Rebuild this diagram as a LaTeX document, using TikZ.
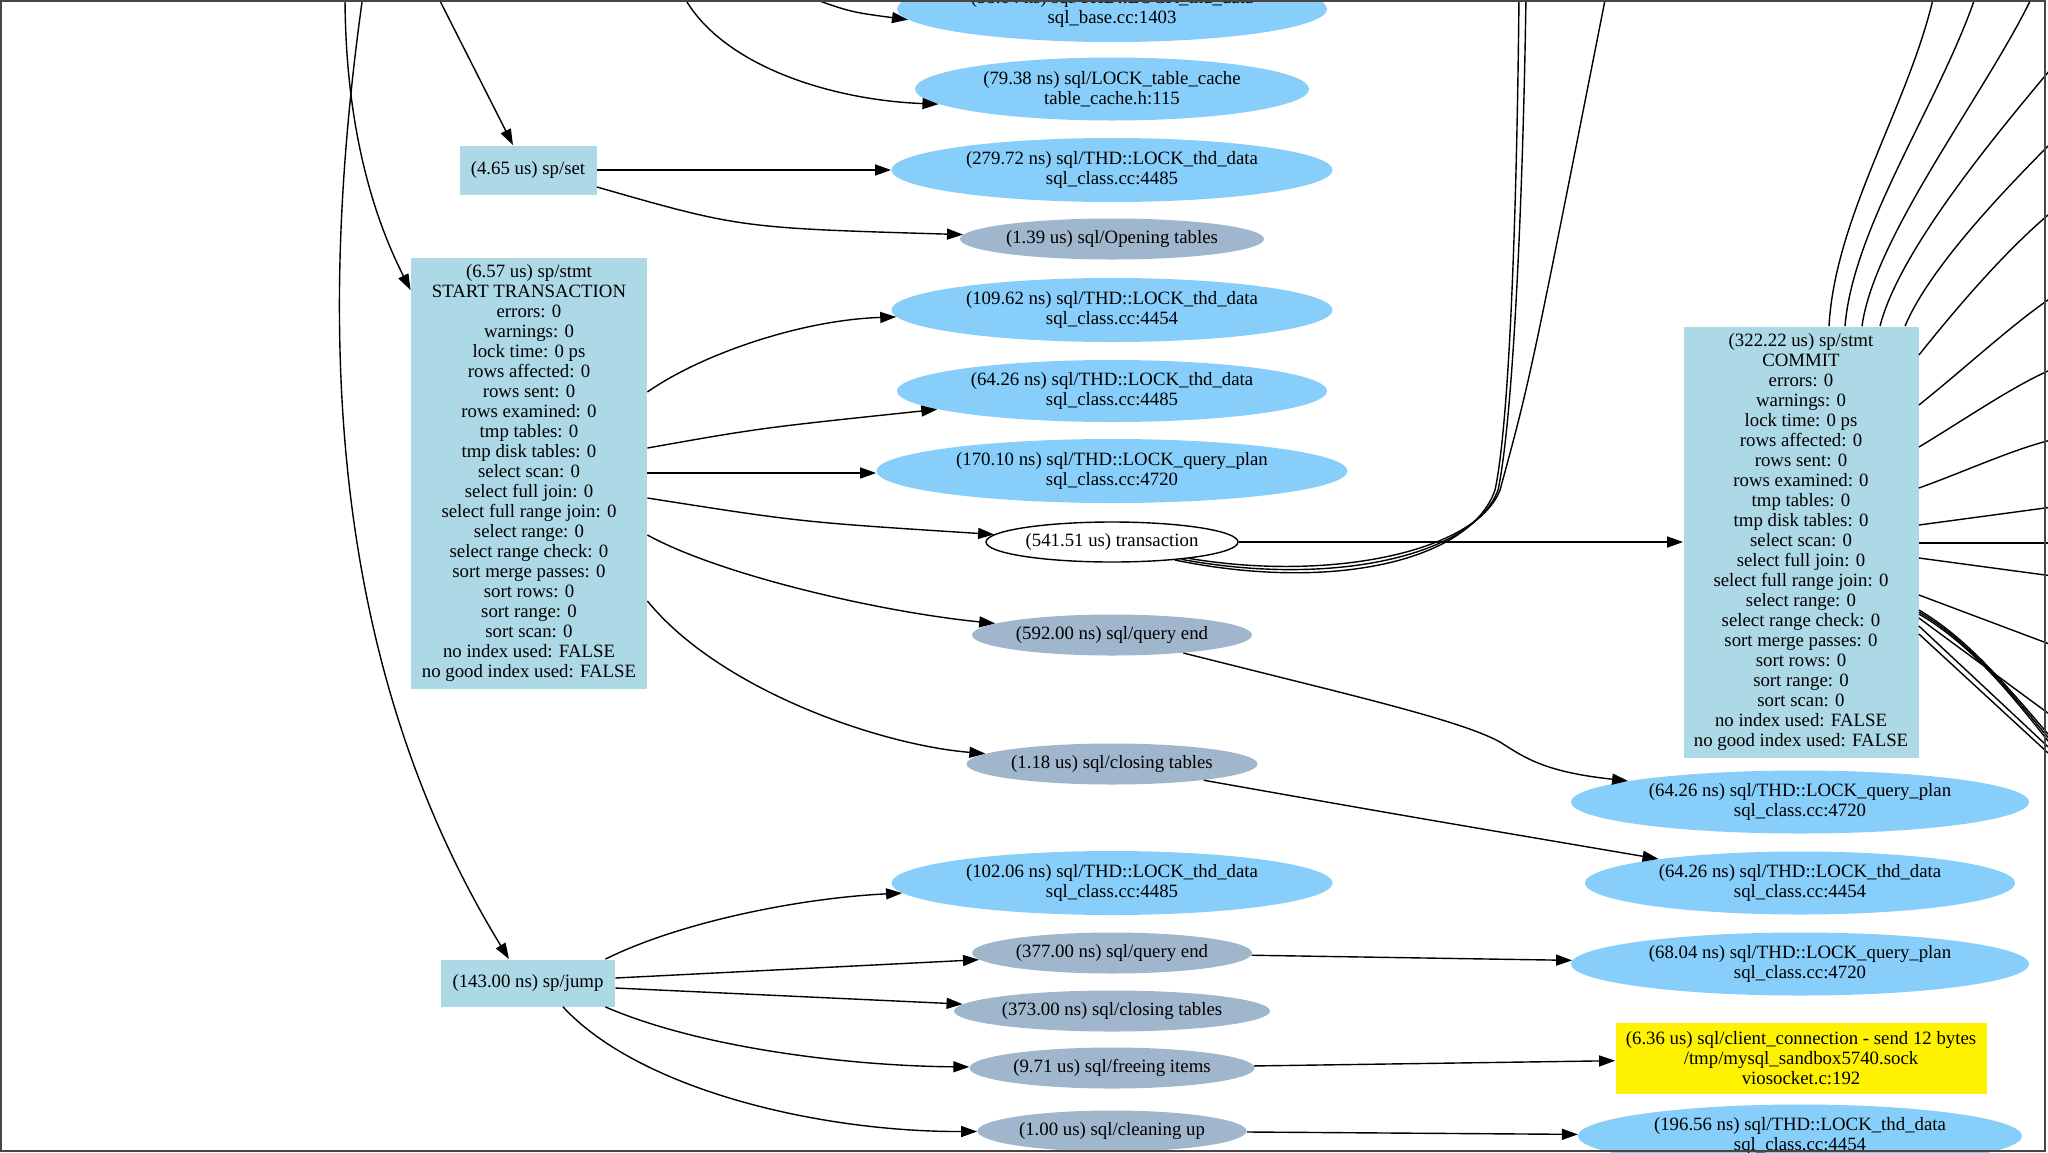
\documentclass[tikz,border=0pt]{standalone}
\usepackage{fontspec}
\setmainfont{Liberation Serif}
\usetikzlibrary{shapes.geometric,arrows.meta,calc}
\definecolor{boxblue}{RGB}{173,216,230}
\definecolor{ellblue}{RGB}{135,206,250}
\definecolor{ellgray}{RGB}{159,182,205}
\definecolor{framec}{RGB}{70,70,70}
\newcommand{\stmtstats}{errors: 0\\warnings: 0\\lock time: 0 ps\\rows affected: 0\\rows sent: 0\\rows examined: 0\\tmp tables: 0\\tmp disk tables: 0\\select scan: 0\\select full join: 0\\select full range join: 0\\select range: 0\\select range check: 0\\sort merge passes: 0\\sort rows: 0\\sort range: 0\\sort scan: 0\\no index used: FALSE\\no good index used: FALSE}
\begin{document}
\begin{tikzpicture}[x=0.5pt,y=-0.5pt,
  every node/.style={font=\fontsize{9.4}{10}\selectfont, inner sep=0pt, align=center, text=black},
  sbox/.style={rectangle, fill=boxblue},
  bell/.style={ellipse, fill=ellblue},
  gell/.style={ellipse, fill=ellgray},
  wbox/.style={ellipse, fill=white, draw=black, line width=0.7pt},
  ybox/.style={rectangle, fill=yellow},
  edge/.style={draw=black, line width=0.7pt, -{Triangle[length=8pt,width=5.5pt]}},
  plain/.style={draw=black, line width=0.7pt},
]
\useasboundingbox (0,0) rectangle (2048,1152);
\begin{scope}
\clip (0,0) rectangle (2048,1152);
% middle column
\node[bell, minimum width=215pt, minimum height=33pt] (base) at (1112,9) {(58.04 ns) sql/THD::LOCK\_thd\_data\\sql\_base.cc:1403};
\node[bell, minimum width=197pt, minimum height=31.5pt] (cache) at (1112,89) {(79.38 ns) sql/LOCK\_table\_cache\\table\_cache.h:115};
\node[bell, minimum width=220.5pt, minimum height=32pt] (ths1) at (1112,170) {(279.72 ns) sql/THD::LOCK\_thd\_data\\sql\_class.cc:4485};
\node[gell, minimum width=152pt, minimum height=20.5pt] (open) at (1112,239) {(1.39 us) sql/Opening tables};
\node[bell, minimum width=220.5pt, minimum height=32pt] (ths2) at (1112,310) {(109.62 ns) sql/THD::LOCK\_thd\_data\\sql\_class.cc:4454};
\node[bell, minimum width=215pt, minimum height=31pt] (ths3) at (1112,391) {(64.26 ns) sql/THD::LOCK\_thd\_data\\sql\_class.cc:4485};
\node[bell, minimum width=235.5pt, minimum height=32pt] (qp1) at (1112,471) {(170.10 ns) sql/THD::LOCK\_query\_plan\\sql\_class.cc:4720};
\node[wbox, minimum width=126pt, minimum height=20pt] (trans) at (1112,542) {(541.51 us) transaction};
\node[gell, minimum width=140pt, minimum height=20.5pt] (qend1) at (1112,635) {(592.00 ns) sql/query end};
\node[gell, minimum width=145.5pt, minimum height=20.5pt] (close1) at (1112,764) {(1.18 us) sql/closing tables};
\node[bell, minimum width=220.5pt, minimum height=32pt] (thd102) at (1112,883) {(102.06 ns) sql/THD::LOCK\_thd\_data\\sql\_class.cc:4485};
\node[gell, minimum width=140pt, minimum height=20.5pt] (qend2) at (1112,953) {(377.00 ns) sql/query end};
\node[gell, minimum width=158pt, minimum height=20.5pt] (close2) at (1112,1011) {(373.00 ns) sql/closing tables};
\node[gell, minimum width=142.5pt, minimum height=20.5pt] (free) at (1112,1068) {(9.71 us) sql/freeing items};
\node[gell, minimum width=134.5pt, minimum height=20.5pt] (clean) at (1112,1131) {(1.00 us) sql/cleaning up};
% left column
\node[sbox, minimum width=68.5pt, minimum height=24.5pt] (set) at (528,170) {(4.65 us) sp/set};
\node[sbox, minimum width=118pt, minimum height=215.5pt] (st) at (529,473) {(6.57 us) sp/stmt\\START TRANSACTION\\\stmtstats};
\node[sbox, minimum width=87pt, minimum height=23.5pt] (jump) at (528,983) {(143.00 ns) sp/jump};
% right column
\node[sbox, minimum width=117.5pt, minimum height=215.5pt] (commit) at (1801,542) {(322.22 us) sp/stmt\\COMMIT\\\stmtstats};
\node[bell, minimum width=229pt, minimum height=31.5pt] (lqp2) at (1800,802) {(64.26 ns) sql/THD::LOCK\_query\_plan\\sql\_class.cc:4720};
\node[bell, minimum width=215pt, minimum height=31.5pt] (lthd) at (1800,883) {(64.26 ns) sql/THD::LOCK\_thd\_data\\sql\_class.cc:4454};
\node[bell, minimum width=229pt, minimum height=31.5pt] (lqp3) at (1800,964) {(68.04 ns) sql/THD::LOCK\_query\_plan\\sql\_class.cc:4720};
\node[ybox, minimum width=185.5pt, minimum height=35.5pt] (yel) at (1801,1058) {(6.36 us) sql/client\_connection - send 12 bytes\\/tmp/mysql\_sandbox5740.sock\\viosocket.c:192};
\node[bell, minimum width=222pt, minimum height=31.5pt] (l196) at (1800,1136) {(196.56 ns) sql/THD::LOCK\_thd\_data\\sql\_class.cc:4454};
% off-picture ends
\coordinate (c1) at (437,-5);
\coordinate (c2) at (345,-5);
\coordinate (c3) at (363,-5);
\coordinate (c4) at (683,-5);
\coordinate (c5) at (803,-5);
\coordinate (t1) at (1519,-5);
\coordinate (t2) at (1526,-5);
\coordinate (t3) at (1606,-5);
\coordinate (f1) at (1934,-5);
\coordinate (f2) at (1976,-5);
\coordinate (f3) at (2033,-5);
\coordinate (f4) at (2060,58);
\coordinate (f5) at (2060,134);
\coordinate (f6) at (2060,205);
\coordinate (f7) at (2060,292);
\coordinate (f8) at (2060,366);
\coordinate (f9) at (2060,438);
\coordinate (f10) at (2060,506);
\coordinate (f11) at (2060,543);
\coordinate (f12) at (2060,577);
\coordinate (f13) at (2060,648);
\coordinate (f14) at (2060,748);
\coordinate (f15) at (2060,752);
\coordinate (f16) at (2060,756);
\coordinate (f17) at (2060,722);
\coordinate (f18) at (2060,758);
\coordinate (f19) at (2060,764);
% incoming from above
\draw[edge] (c1) -- ($(set.north)+(-15,0)$);
\draw[edge] (c2) .. controls (345,130) and (375,220) .. ($(st.north west)+(0,33)$);
\draw[edge] (c3) .. controls (320,300) and (320,650) .. ($(jump.north)+(-19,0)$);
\draw[edge] (c4) .. controls (720,65) and (830,100) .. (cache.185);
\draw[edge] (c5) .. controls (850,12) .. (base.183);
% sp/set
\draw[edge] (set.east) -- (set.east -| ths1.west);
\draw[edge] ($(set.east)+(0,17)$) .. controls (740,228) .. (open);
% START TRANSACTION
\draw[edge] ($(st.east)+(0,-81)$) .. controls (700,355) and (800,320) .. (ths2);
\draw[edge] ($(st.east)+(0,-25)$) .. controls (760,428) .. (ths3);
\draw[edge] (st.east) -- (st.east -| qp1.west);
\draw[edge] ($(st.east)+(0,25)$) .. controls (800,522) .. (trans);
\draw[edge] ($(st.east)+(0,62)$) .. controls (720,575) and (880,612) .. (qend1);
\draw[edge] ($(st.east)+(0,128)$) .. controls (720,690) and (880,745) .. (close1);
% sp/jump
\draw[edge] ($(jump.north east)+(-10,0)$) .. controls (680,922) and (800,898) .. (thd102);
\draw[edge] ($(jump.east)+(0,-5)$) -- (qend2);
\draw[edge] ($(jump.east)+(0,5)$) -- (close2);
\draw[edge] ($(jump.south east)+(-10,0)$) .. controls (700,1048) and (850,1066) .. (free);
\draw[edge] ($(jump.south)+(35,0)$) .. controls (640,1090) and (820,1132) .. (clean);
% to the right column
\draw[edge] (qend1) .. controls (1350,695) and (1460,720) .. (1500,742) .. controls (1525,758) and (1545,772) .. (lqp2.173);
\draw[edge] (close1) .. controls (1400,815) .. (lthd);
\draw[edge] (qend2) -- (lqp3);
\draw[edge] (free) -- (yel);
\draw[edge] (clean) -- (l196);
\draw[edge] (trans.east) -- (commit.west);
% transaction upwards
\draw[plain] (trans.344) .. controls (1330,592) and (1470,562) .. (1495,490) .. controls (1510,420) and (1517,200) .. (t1);
\draw[plain] (trans.346) .. controls (1330,587) and (1473,557) .. (1498,490) .. controls (1513,420) and (1523,200) .. (t2);
\draw[plain] (trans.348) .. controls (1330,582) and (1476,552) .. (1500,490) .. controls (1530,380) .. (t3);
% COMMIT fan
\draw[plain] ($(commit.north)+(28,0)$) .. controls +(6,-110) and +(-25,110) .. (f1);
\draw[plain] ($(commit.north)+(44,0)$) .. controls +(8,-100) and +(-35,105) .. (f2);
\draw[plain] ($(commit.north)+(61,0)$) .. controls +(12,-90) and +(-45,95) .. (f3);
\draw[plain] ($(commit.north)+(79,0)$) .. controls +(20,-80) and +(-50,60) .. (f4);
\draw[plain] ($(commit.north)+(104,0)$) .. controls +(25,-60) and +(-50,50) .. (f5);
\draw[plain] ($(commit.east)+(0,-187)$) .. controls +(40,-50) and +(-50,40) .. (f6);
\draw[plain] ($(commit.east)+(0,-137)$) .. controls +(50,-40) and +(-40,25) .. (f7);
\draw[plain] ($(commit.east)+(0,-95)$) .. controls +(50,-30) and +(-40,15) .. (f8);
\draw[plain] ($(commit.east)+(0,-54)$) .. controls +(50,-18) and +(-40,8) .. (f9);
\draw[plain] ($(commit.east)+(0,-17)$) -- (f10);
\draw[plain] ($(commit.east)+(0,1)$) -- (f11);
\draw[plain] ($(commit.east)+(0,16)$) -- (f12);
\draw[plain] ($(commit.east)+(0,53)$) -- (f13);
\draw[plain] ($(commit.east)+(0,68)$) .. controls (1970,640) and (2010,690) .. (f14);
\draw[plain] ($(commit.east)+(0,70)$) .. controls (1972,643) and (2012,694) .. (f15);
\draw[plain] ($(commit.east)+(0,72)$) .. controls (1974,646) and (2014,698) .. (f16);
\draw[plain] ($(commit.east)+(0,76)$) -- (f17);
\draw[plain] ($(commit.east)+(0,84)$) -- (f18);
\draw[plain] ($(commit.east)+(0,92)$) -- (f19);
\end{scope}
\draw[framec, line width=1pt] (1,1) rectangle (2045,1151);
\end{tikzpicture}
\end{document}
